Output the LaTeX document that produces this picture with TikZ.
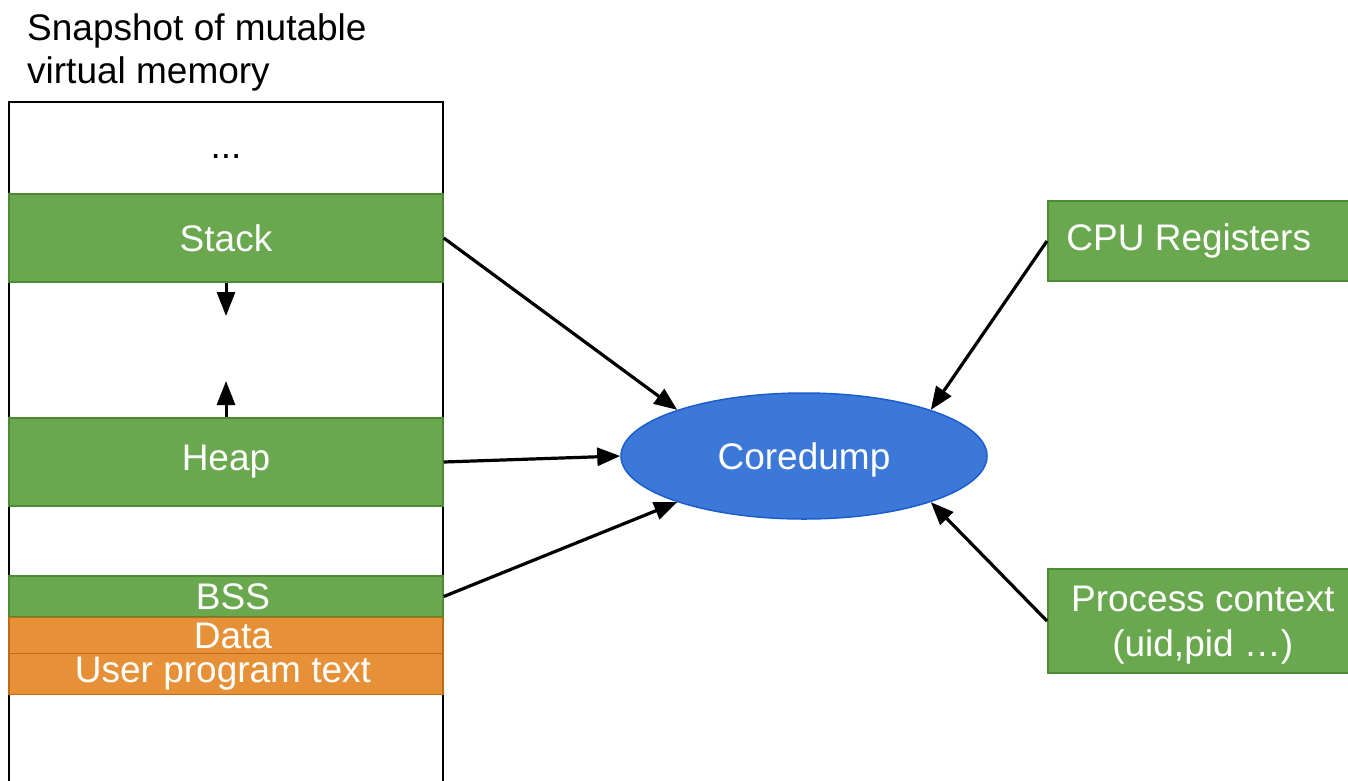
\documentclass[tikz,border=0pt]{standalone}
\usepackage{fontspec}
\setmainfont{Liberation Sans}
\usetikzlibrary{shapes.geometric,arrows.meta}
\definecolor{memgreen}{HTML}{6AA84F}
\definecolor{memgreenline}{HTML}{4E8A36}
\definecolor{memorange}{HTML}{E69138}
\definecolor{memorangeline}{HTML}{C16A12}
\definecolor{coreblue}{HTML}{3C78D8}
\definecolor{corebline}{HTML}{1A5DCC}
\begin{document}
\begin{tikzpicture}[x=1pt,y=-1pt,
  lbl/.style={font=\fontsize{37}{45}\selectfont},
  seg/.style={draw=memgreenline, fill=memgreen, line width=1.5pt, text=white,
    inner sep=0pt, minimum width=434pt, lbl},
  oseg/.style={seg, draw=memorangeline, fill=memorange},
  conn/.style={line width=3.2pt, -{Triangle[length=23pt,width=18pt]}},
  growarrow/.style={line width=3pt, -{Triangle[length=24pt,width=18pt]}}
]
\clip (0,0) rectangle (1348,780);
\useasboundingbox (0,0) rectangle (1348,780);

% title above the memory column
\node[lbl, anchor=base west, inner sep=0pt] (title1) at (27,40) {Snapshot of mutable};
\node[lbl, anchor=base west, inner sep=0pt] (title2) at (27,83) {virtual memory};

% memory column outline (open at the bottom)
\draw[line width=2pt] (9,790) -- (9,102) -- (443,102) -- (443,790);
\node[lbl, anchor=base] (dots) at (226,158) {...};

% memory segments
\node[seg, minimum height=88pt] (stack) at (226,238) {Stack};
\node[seg, minimum height=88pt] (heap) at (226,462) {Heap};
\node[seg, minimum height=41pt] (bss) at (226,596.5) {\hspace*{14pt}BSS};
\node[oseg, minimum height=36pt] (data) at (226,635.5) {\hspace*{14pt}Data};
\node[oseg, minimum height=41pt] (text) at (226,674) {User program text\hspace*{6pt}};

% growth directions of stack and heap
\coordinate (stackgrow) at (226,316);
\coordinate (heapgrow) at (226,381);
\draw[growarrow] (stack.south) -- (stackgrow);
\draw[growarrow] (heap.north) -- (heapgrow);

% coredump and its other sources
\node[ellipse, draw=corebline, fill=coreblue, line width=1.5pt, text=white, lbl,
  text depth=0pt, minimum width=366pt, minimum height=126pt, inner sep=0pt] (core) at (804,456)
  {Coredump};
\node[seg, minimum width=310pt, minimum height=80pt, anchor=west] (cpu) at (1047,241)
  {CPU Registers\hspace*{28pt}};
\node[seg, minimum width=310pt, minimum height=104pt, anchor=west, align=center] (proc) at (1047,621)
  {\rule{0pt}{33pt}Process context\\(uid,pid …)};

% connectors into the coredump
\draw[conn] (stack.east) -- (core.160);
\draw[conn] (heap.east) -- (core.west);
\draw[conn] (bss.east) -- (core.200);
\draw[conn] (cpu.west) -- (core.20);
\draw[conn] (proc.west) -- (core.340);
\end{tikzpicture}
\end{document}
